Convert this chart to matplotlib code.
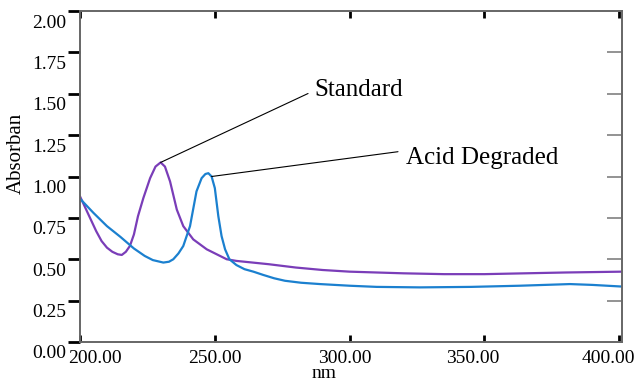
import numpy as np
import matplotlib.pyplot as plt
import matplotlib.transforms as mtransforms

# Standard (purple)
std_nm = [200, 202, 204, 206, 208, 210, 212, 214, 215.5, 217, 218.5, 220, 221.5, 223.5,
          226, 228, 229.9, 231.5, 233.4, 235.9, 238.3, 242, 247, 250.7, 254.4, 258,
          264, 270, 280, 290, 300, 310, 320, 335, 350, 365, 380, 401]
std_abs = [0.88, 0.81, 0.74, 0.67, 0.61, 0.57, 0.545, 0.53, 0.526, 0.545, 0.58, 0.65, 0.76, 0.87,
           0.99, 1.06, 1.085, 1.06, 0.97, 0.80, 0.70, 0.62, 0.56, 0.53, 0.50, 0.49,
           0.48, 0.47, 0.45, 0.435, 0.425, 0.42, 0.415, 0.41, 0.41, 0.415, 0.42, 0.425]

# Acid degraded (blue)
acid_nm = [200, 205, 210, 215, 220, 224, 227, 230.9, 233, 234.6, 236.5, 238.3, 240.8, 243.2,
           245.1, 246.5, 247.6, 248.8, 250, 251.3, 252.5, 253.8, 255.4, 258, 261, 264.3,
           268, 272, 276, 282, 289, 300, 310, 326, 345, 363, 381.7, 390, 401]
acid_abs = [0.866, 0.78, 0.70, 0.635, 0.565, 0.52, 0.495, 0.48, 0.485, 0.50, 0.535, 0.58, 0.70, 0.91,
            0.99, 1.015, 1.02, 1.0, 0.93, 0.76, 0.64, 0.56, 0.50, 0.465, 0.44, 0.425,
            0.405, 0.385, 0.37, 0.358, 0.35, 0.34, 0.333, 0.33, 0.333, 0.34, 0.35, 0.345, 0.335]

xticks = [200, 250, 300, 350, 400]
yticks = [0.0, 0.25, 0.5, 0.75, 1.0, 1.25, 1.5, 1.75, 2.0]

plt.rcParams['font.family'] = ['Liberation Serif', 'DejaVu Serif']

fig = plt.figure(figsize=(6.38, 3.83), dpi=100)
ax = fig.add_axes([80/638, 1-342/383, 542/638, 331/383])

ax.plot(std_nm, std_abs, color='#7A3DB8', lw=1.6)
ax.plot(acid_nm, acid_abs, color='#1B80CF', lw=1.6)

ax.set_xlim(200, 401)
ax.set_ylim(0, 2.0)

ax.set_xticks(xticks)
ax.set_xticklabels(["%.2f" % v for v in xticks], fontsize=14)
ax.set_yticks(yticks)
ax.set_yticklabels(["%.2f" % v for v in yticks], fontsize=14)

ax.tick_params(axis='y', direction='out', length=9, width=2, color='black', pad=1)
ax.tick_params(axis='x', direction='in', length=5, width=2, color='black', pad=6, top=True)

# right side: thin grey inward ticks, no labels
ax2 = ax.twinx()
ax2.set_ylim(0, 2.0)
ax2.set_yticks(yticks)
ax2.tick_params(axis='y', direction='in', length=11, width=1.2, color='#808080', labelright=False)

for a in (ax, ax2):
    for sp in a.spines.values():
        sp.set_color('#666666')
        sp.set_linewidth(1.2)

# labels sit a bit off their ticks, as in the original
off = mtransforms.ScaledTranslation(0, -10/100, fig.dpi_scale_trans)
for lab in ax.get_yticklabels():
    lab.set_transform(lab.get_transform() + off)
shifts = [15, 0, -5, -12, -11]
for lab, dx in zip(ax.get_xticklabels(), shifts):
    lab.set_transform(lab.get_transform() + mtransforms.ScaledTranslation(dx/100, 0, fig.dpi_scale_trans))

ax.set_ylabel("Absorban", fontsize=15)
ax.yaxis.set_label_coords(-0.10, 0.57)
ax.set_xlabel("nm", fontsize=14)
ax.xaxis.set_label_coords(0.45, -0.07)

i = int(np.argmax(std_abs))
ax.annotate("Standard", xy=(std_nm[i], std_abs[i]), xytext=(287, 1.52),
            fontsize=18, va='center', ha='left',
            arrowprops=dict(arrowstyle='-', color='black', lw=0.8, relpos=(0, 0.5),
                            shrinkA=3, shrinkB=0))
j = int(np.argmax(acid_abs))
ax.annotate("Acid Degraded", xy=(acid_nm[j] + 1.2, acid_abs[j] - 0.02), xytext=(321, 1.11),
            fontsize=18, va='center', ha='left',
            arrowprops=dict(arrowstyle='-', color='black', lw=0.8, relpos=(0, 0.85),
                            shrinkA=4, shrinkB=0))

fig.savefig("out.png", dpi=100)
